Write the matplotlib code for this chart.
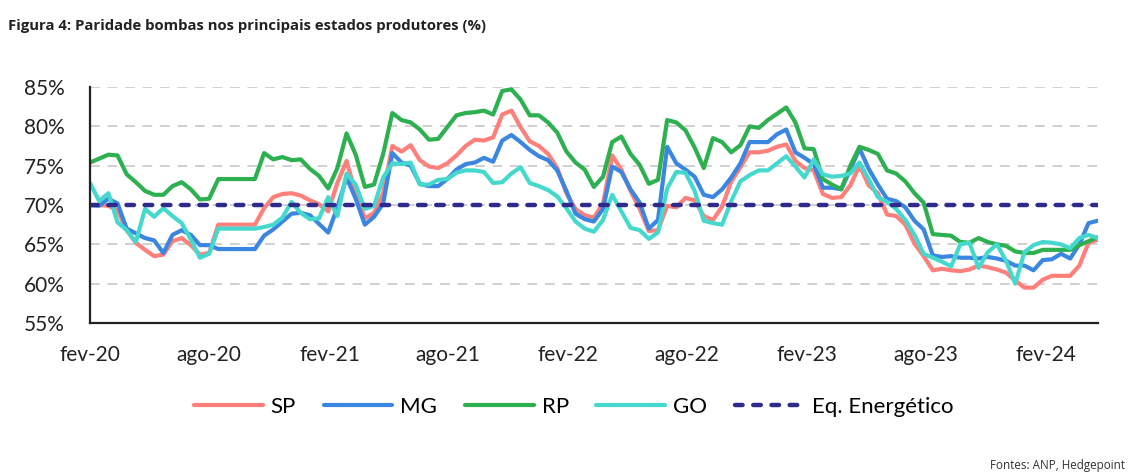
import numpy as np
import pandas as pd
import matplotlib
matplotlib.use("Agg")
import matplotlib.pyplot as plt

# datas quinzenais, fev-20 ate abr-24
datas = pd.date_range("2020-02-01", periods=111, freq="14D")

sp = [70.0, 70.0, 69.9, 69.3, 66.8, 65.2, 64.3, 63.5, 63.7, 65.4,
      65.8, 64.9, 63.7, 63.9, 67.5, 67.5, 67.5, 67.5, 67.5, 69.6,
      71.0, 71.4, 71.5, 71.2, 70.6, 70.1, 69.2, 72.8, 75.6, 71.5,
      68.3, 69.0, 71.5, 77.5, 76.8, 77.6, 75.7, 74.9, 74.7, 75.3,
      76.3, 77.5, 78.3, 78.2, 78.6, 81.5, 82.0, 79.9, 78.1, 77.5,
      76.5, 74.7, 71.5, 69.5, 68.7, 68.4, 70.2, 76.3, 74.5, 71.8,
      69.5, 66.7, 66.8, 69.9, 69.7, 70.9, 70.6, 68.6, 68.1, 69.8,
      73.0, 74.8, 76.7, 76.7, 76.9, 77.4, 77.7, 75.6, 74.7, 74.4,
      71.4, 70.9, 71.0, 72.5, 75.0, 72.5, 71.5, 68.8, 68.6, 67.5,
      65.1, 63.5, 61.7, 61.9, 61.7, 61.6, 61.8, 62.3, 62.1, 61.8,
      61.4, 60.4, 59.5, 59.5, 60.5, 61.0, 61.0, 61.0, 62.3, 65.2,
      65.6]

mg = [70.0, 69.9, 70.8, 70.2, 67.0, 66.4, 65.8, 65.5, 63.9, 66.2,
      66.8, 66.2, 64.9, 64.9, 64.4, 64.4, 64.4, 64.4, 64.4, 66.1,
      66.9, 67.9, 68.9, 69.0, 68.7, 67.6, 66.5, 69.7, 73.5, 70.8,
      67.5, 68.5, 70.2, 76.6, 75.4, 75.0, 72.7, 72.4, 72.4, 73.3,
      74.5, 75.2, 75.4, 76.0, 75.5, 78.2, 78.9, 78.0, 77.0, 76.2,
      75.7, 74.4, 71.8, 68.9, 68.2, 67.9, 69.5, 74.9, 74.2, 72.0,
      70.3, 67.0, 68.1, 77.4, 75.3, 74.5, 73.6, 71.3, 71.0, 72.0,
      73.5, 75.3, 78.0, 78.0, 78.0, 79.0, 79.6, 76.7, 76.0, 75.2,
      72.2, 72.2, 72.0, 74.5, 77.2, 74.6, 72.6, 70.8, 70.5, 69.7,
      68.0, 66.9, 63.6, 63.4, 63.5, 63.3, 63.3, 63.2, 63.4, 63.2,
      62.9, 62.3, 62.3, 61.7, 63.0, 63.1, 63.8, 63.2, 65.0, 67.7,
      68.0]

rp = [75.4, 75.9, 76.4, 76.3, 73.9, 72.9, 71.8, 71.3, 71.3, 72.4,
      72.9, 72.0, 70.7, 70.8, 73.3, 73.3, 73.3, 73.3, 73.3, 76.6,
      75.8, 76.1, 75.7, 75.8, 74.6, 73.7, 72.1, 74.7, 79.1, 76.4,
      72.3, 72.6, 76.5, 81.7, 80.8, 80.5, 79.6, 78.3, 78.4, 79.9,
      81.4, 81.7, 81.8, 82.0, 81.5, 84.5, 84.7, 83.4, 81.4, 81.4,
      80.5, 79.2, 76.8, 75.4, 74.5, 72.3, 73.6, 78.0, 78.7, 76.5,
      75.1, 72.7, 73.2, 80.8, 80.5, 79.5, 77.3, 74.7, 78.5, 78.0,
      76.7, 77.6, 80.0, 79.8, 80.8, 81.6, 82.4, 80.5, 77.2, 77.1,
      73.3, 72.6, 72.0, 75.0, 77.4, 77.0, 76.5, 74.4, 74.0, 73.0,
      71.5, 70.3, 66.3, 66.2, 66.1, 65.3, 65.2, 65.8, 65.3, 65.0,
      64.8, 64.1, 63.9, 63.9, 64.3, 64.3, 64.3, 64.3, 64.9, 65.4,
      65.9]

go = [72.8, 70.5, 71.5, 67.8, 66.8, 65.3, 69.5, 68.5, 69.6, 68.6,
      67.7, 65.6, 63.3, 63.8, 67.0, 67.0, 67.0, 67.0, 67.0, 67.2,
      67.5, 68.4, 70.4, 69.0, 68.2, 68.3, 71.0, 68.6, 74.0, 72.6,
      69.5, 69.9, 73.5, 75.3, 75.2, 75.4, 72.6, 72.6, 73.2, 73.3,
      74.1, 74.4, 74.4, 74.2, 72.8, 72.9, 74.0, 74.8, 72.8, 72.4,
      71.9, 71.1, 69.6, 67.9, 67.0, 66.6, 68.1, 71.3, 69.2, 67.1,
      66.8, 65.7, 66.5, 72.1, 74.2, 74.1, 71.8, 68.0, 67.7, 67.5,
      70.5, 73.0, 73.8, 74.4, 74.4, 75.3, 76.2, 74.9, 73.5, 75.8,
      73.9, 73.6, 73.7, 74.0, 75.4, 73.3, 71.0, 70.4, 69.5, 68.1,
      66.2, 63.8, 63.3, 62.8, 62.2, 65.0, 65.2, 62.0, 64.0, 65.0,
      62.9, 60.0, 64.0, 64.9, 65.3, 65.2, 65.0, 64.5, 65.8, 66.2,
      65.8]

eq_energetico = 70.0

series = ["SP", "MG", "RP", "GO"]
cores = ["#FF7F7A", "#3B86E0", "#2DB04F", "#45D9CE"]

y_ticks = [55, 60, 65, 70, 75, 80, 85]
x_ticks = pd.to_datetime(["2020-02-01", "2020-08-01", "2021-02-01", "2021-08-01",
                          "2022-02-01", "2022-08-01", "2023-02-01", "2023-08-01",
                          "2024-02-01"])
x_labels = ["fev-20", "ago-20", "fev-21", "ago-21", "fev-22", "ago-22",
            "fev-23", "ago-23", "fev-24"]

plt.rcParams["font.family"] = ["Lato", "DejaVu Sans"]

fig = plt.figure(figsize=(11.47, 4.76), dpi=100)
ax = fig.add_axes([0.0785, 0.3214, 0.8785, 0.4958])

for nome, vals, cor in zip(series, [sp, mg, rp, go], cores):
    ax.plot(datas, vals, color=cor, lw=3, label=nome, solid_capstyle="round")
ax.plot(datas, [eq_energetico] * len(datas), color="#2F2B8C", lw=3.2,
        ls=(0, (1.7, 2.4)), dash_capstyle="round", label="Eq. Energético")

ax.set_ylim(55, 85)
ax.set_xlim(datas[0], datas[-1])
ax.set_yticks(y_ticks)
ax.set_yticklabels([f"{v}%" for v in y_ticks])
ax.set_xticks(x_ticks)
ax.set_xticklabels(x_labels)
ax.tick_params(length=0, labelsize=15, colors="#222222")
ax.tick_params(axis="y", pad=18)
ax.tick_params(axis="x", pad=16)

ax.grid(axis="y", color="#d0d0d0", ls=(0, (5, 4)), lw=1.4)
ax.set_axisbelow(True)
for s in ["top", "right"]:
    ax.spines[s].set_visible(False)
for s in ["left", "bottom"]:
    ax.spines[s].set_linewidth(1.6)
    ax.spines[s].set_color("#222222")

fig.legend(loc="center", bbox_to_anchor=(0.5, 0.145), ncol=5, frameon=False,
           fontsize=16, handlelength=3.1, columnspacing=1.25, handletextpad=0.35)

fig.text(0.007, 0.945, "Figura 4: Paridade bombas nos principais estados produtores (%)",
         fontsize=10.7, fontweight="bold", family=["Open Sans", "DejaVu Sans"],
         color="#222222", va="center")
fig.text(0.981, 0.023, "Fontes: ANP, Hedgepoint", fontsize=8.4,
         family=["Open Sans", "DejaVu Sans"], color="#333333", ha="right", va="center")

fig.savefig("out.png", dpi=100)
